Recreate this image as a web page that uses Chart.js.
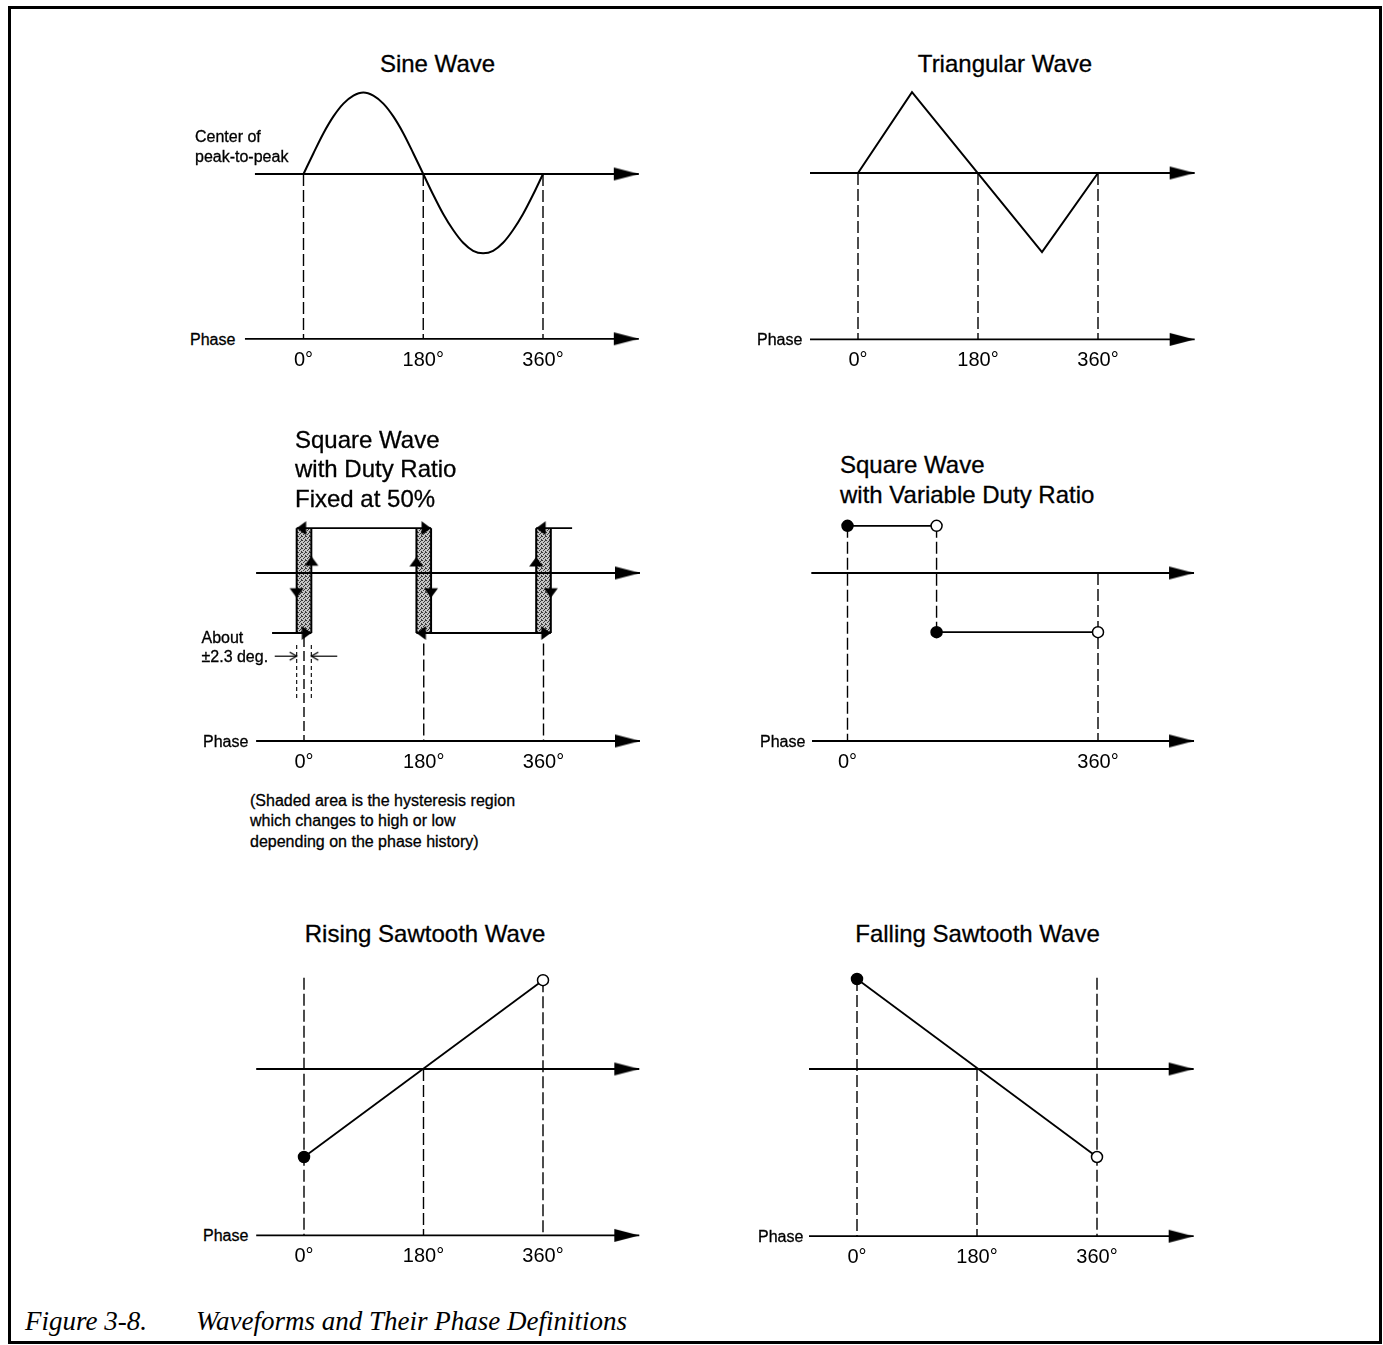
<!DOCTYPE html>
<html>
<head>
<meta charset="utf-8">
<script src="https://cdn.jsdelivr.net/npm/chart.js@4.4.1/dist/chart.umd.min.js"></script>
<style>
body { margin: 0; background: #fff; }
#page { position: relative; width: 1383px; height: 1345px; overflow: hidden; color: #000;
        font-family: 'Liberation Sans', Arial, Helvetica, sans-serif; }
#frame { position: absolute; left: 8px; top: 6px; width: 1374px; height: 1338px;
         border: 3px solid #000; box-sizing: border-box; }
canvas { position: absolute; }
.t { position: absolute; white-space: pre; -webkit-text-stroke: 0.3px #000; }
.cap { font-family: 'Liberation Serif', 'DejaVu Serif', serif; font-style: italic; -webkit-text-stroke: 0; }
</style>
</head>
<body>
<div id="page"><div id="frame"></div></div>
<script>
// ---- values (phase in degrees, level in amplitude units) ----
const tickValues = [0, 180, 360];
const tickLabels = ['0°', '180°', '360°'];
const varTickValues = [0, 360];
const varTickLabels = ['0°', '360°'];
const guidePhases = [0, 180, 360];

const sinePhase = [0, 15, 30, 45, 60, 75, 90, 105, 120, 135, 150, 165, 180,
                   195, 210, 225, 240, 255, 270, 285, 300, 315, 330, 345, 360];
const sineValue = [0, 0.26, 0.51, 0.72, 0.88, 0.98, 1.02, 0.98, 0.88, 0.72, 0.51, 0.26, 0,
                   -0.26, -0.5, -0.7, -0.86, -0.96, -0.99, -0.96, -0.86, -0.7, -0.5, -0.26, 0];
const sineAxis = [-73, 504];
const sinePhaseAxis = [-88, 504];
const sinePhaseLevel = -2.06;

const triPhase = [0, 81, 276, 360];
const triValue = [0, 1.01, -0.99, 0];
const triAxis = [-72, 505];
const triPhaseLevel = -2.08;

// square wave, duty ratio fixed at 50 %
const fixedHigh = 0.56;
const fixedLow = -0.75;
const fixedBands = [0, 180, 360];
const fixedBandHalf = 11;
const fixedTopRuns = [[-11, 191], [349, 403]];
const fixedLowRuns = [[-48, 11], [169, 371]];
const fixedArrowPhase = [-11, 11, -11, 11, 191, 169, 191, 169, 349, 349, 371, 371];
const fixedArrowLevel = [0.56, 0.21, -0.31, -0.75, 0.56, 0.2, -0.31, -0.75, 0.56, 0.2, -0.31, -0.75];
const fixedArrowTurn = [270, 0, 180, 90, 90, 0, 180, 270, 270, 0, 180, 90];
const fixedDimLevel = -1.04;
const fixedDimRuns = [[-44, -11], [50, 11]];
const fixedAxis = [-72, 505];
const fixedPhaseLevel = -2.1;

// square wave, variable duty ratio
const varSwitch = 128;
const varHigh = 0.59;
const varLow = -0.74;
const varAxis = [-52, 498];
const varPhaseAxis = [-51, 498];
const varPhaseLevel = -2.1;

// sawtooth waves
const sawPhase = [0, 360];
const riseValue = [-1.10, 1.11];
const riseGuideTop = [1.14, 0, 1.11];
const risePhaseLevel = -2.08;
const fallValue = [1.125, -1.10];
const fallGuideTop = [1.125, 0, 1.14];
const fallPhaseLevel = -2.09;
const sawAxis = [-72, 505];

// ---- drawing helpers ----
const UNIT = 80;   // px per amplitude unit
const page = document.getElementById('page');
Chart.defaults.font.family = "'Liberation Sans', Arial, Helvetica, sans-serif";
Chart.defaults.color = '#000';

function makeImg(w, h, draw) {
  const c = document.createElement('canvas');
  c.width = w; c.height = h;
  draw(c.getContext('2d'), w / 2, h / 2);
  return c;
}
// arrowheads with their tip at the image centre
const axisArrow = makeImg(52, 15, (g, cx, cy) => {
  g.fillStyle = '#000'; g.beginPath();
  g.moveTo(cx - 25, cy - 6.5); g.lineTo(cx, cy); g.lineTo(cx - 25, cy + 6.5); g.closePath(); g.fill();
});
const smallArrow = makeImg(18, 24, (g, cx, cy) => {
  g.fillStyle = '#000'; g.beginPath();
  g.moveTo(cx, cy); g.lineTo(cx + 7, cy + 9.5); g.lineTo(cx - 7, cy + 9.5); g.closePath(); g.fill();
});
const dimArrow = makeImg(14, 20, (g, cx, cy) => {
  g.strokeStyle = '#000'; g.lineWidth = 1.3; g.beginPath();
  g.moveTo(cx - 4, cy + 7); g.lineTo(cx, cy); g.lineTo(cx + 4, cy + 7); g.stroke();
});

const pts = (xs, ys) => xs.map((x, i) => ({x, y: ys[i]}));
const hseg = (x1, x2, y) => [{x: x1, y}, {x: x2, y}];
const vseg = (x, y1, y2) => [{x, y: y1}, {x, y: y2}];

function line(data, extra) {
  return Object.assign({data, borderColor: '#000', borderWidth: 1.8, pointRadius: 0,
    clip: false, order: 1, tension: 0}, extra);
}
function dashed(data, dash, width) {
  return line(data, {borderWidth: width || 1.4, borderDash: dash || [12, 4], order: 2});
}
function marks(data, style, turn) {
  return {data, showLine: false, pointStyle: style, pointRadius: 3, pointRotation: turn || 0,
    pointBorderWidth: 0, clip: false, order: 0};
}
function dots(data, filled) {
  return {data, showLine: false, pointStyle: 'circle', pointRadius: 5.5, pointBorderWidth: 1.5,
    pointBorderColor: '#000', pointBackgroundColor: filled ? '#000' : '#fff', clip: false, order: 0};
}
function axes(center, phase, level) {
  return [
    line(hseg(center[0], center[1], 0)),
    line(hseg(phase[0], phase[1], level)),
    marks([{x: center[1], y: 0}, {x: phase[1], y: level}], axisArrow)
  ];
}

function panel(box, ticks, labels, datasets) {
  const ppd = (box.full - box.zero) / 360;
  const bottom = box.phase + 4;
  const c = document.createElement('canvas');
  c.width = box.width;
  c.height = bottom - box.top + 34;   // 24px label line + padding on both sides
  c.style.left = box.left + 'px';
  c.style.top = box.top + 'px';
  page.appendChild(c);
  if (box.pattern) {
    const p = c.getContext('2d').createPattern(box.pattern, 'repeat');
    datasets.forEach(d => { if (d.fill === 'shape') d.backgroundColor = p; });
  }
  return new Chart(c, {
    type: 'line',
    data: {datasets},
    options: {
      responsive: false,
      animation: false,
      events: [],
      layout: {padding: 0, autoPadding: false},
      plugins: {legend: {display: false}, tooltip: {enabled: false}},
      scales: {
        x: {
          type: 'linear',
          min: (box.left - box.zero) / ppd,
          max: (box.left + box.width - box.zero) / ppd,
          grid: {display: false, drawTicks: false},
          border: {display: false},
          afterBuildTicks: s => { s.ticks = ticks.map(v => ({value: v})); },
          ticks: {padding: 5, autoSkip: false, maxRotation: 0, minRotation: 0,
                  font: {size: 20}, callback: (v, i) => labels[i]}
        },
        y: {
          type: 'linear', display: false,
          min: (box.center - bottom) / UNIT,
          max: (box.center - box.top) / UNIT
        }
      }
    }
  });
}

// stipple used for the hysteresis bands
const stipple = makeImg(4, 4, g => {
  g.fillStyle = '#c4c4c4'; g.fillRect(0, 0, 4, 4);
  g.fillStyle = '#3a3a3a';
  [[0, 0], [2, 1], [1, 2], [3, 3], [3, 0]].forEach(([a, b]) => g.fillRect(a, b, 1, 1));
});

// ---- Sine Wave ----
panel({left: 240, top: 80, width: 420, zero: 303.5, full: 543, center: 174, phase: 339},
  tickValues, tickLabels, [
    line(pts(sinePhase, sineValue), {borderWidth: 2, cubicInterpolationMode: 'monotone'}),
    ...axes(sineAxis, sinePhaseAxis, sinePhaseLevel),
    ...guidePhases.map(p => dashed(vseg(p, 0, sinePhaseLevel)))
  ]);

// ---- Triangular Wave ----
panel({left: 800, top: 80, width: 410, zero: 858, full: 1098, center: 173, phase: 339},
  tickValues, tickLabels, [
    line(pts(triPhase, triValue), {borderWidth: 2}),
    ...axes(triAxis, triAxis, triPhaseLevel),
    ...guidePhases.map(p => dashed(vseg(p, 0, triPhaseLevel)))
  ]);

// ---- Square Wave, duty ratio fixed at 50% ----
panel({left: 250, top: 512, width: 410, zero: 304, full: 543.5, center: 573, phase: 741, pattern: stipple},
  tickValues, tickLabels, [
    ...fixedBands.map(c => ({
      data: [{x: c - fixedBandHalf, y: fixedLow}, {x: c + fixedBandHalf, y: fixedLow},
             {x: c + fixedBandHalf, y: fixedHigh}, {x: c - fixedBandHalf, y: fixedHigh},
             {x: c - fixedBandHalf, y: fixedLow}],
      fill: 'shape', borderWidth: 0, borderColor: 'rgba(0,0,0,0)', pointRadius: 0,
      clip: false, order: 3
    })),
    ...fixedBands.flatMap(c => [
      line(vseg(c - fixedBandHalf, fixedLow, fixedHigh), {borderWidth: 2}),
      line(vseg(c + fixedBandHalf, fixedLow, fixedHigh), {borderWidth: 2})
    ]),
    ...fixedTopRuns.map(r => line(hseg(r[0], r[1], fixedHigh))),
    ...fixedLowRuns.map(r => line(hseg(r[0], r[1], fixedLow))),
    marks(pts(fixedArrowPhase, fixedArrowLevel), smallArrow, fixedArrowTurn),
    ...fixedDimRuns.map(r => line(hseg(r[0], r[1], fixedDimLevel), {borderWidth: 1.2})),
    marks(fixedDimRuns.map(r => ({x: r[1], y: fixedDimLevel})), dimArrow, [90, 270]),
    dashed(vseg(-fixedBandHalf, -0.9, -1.6), [4, 3], 1.1),
    dashed(vseg(fixedBandHalf, -0.9, -1.6), [4, 3], 1.1),
    dashed(vseg(0, -0.8, fixedPhaseLevel), [10, 4]),
    dashed(vseg(180, -0.88, fixedPhaseLevel)),
    dashed(vseg(360, -0.88, fixedPhaseLevel)),
    ...axes(fixedAxis, fixedAxis, fixedPhaseLevel)
  ]);

// ---- Square Wave, variable duty ratio ----
panel({left: 800, top: 510, width: 410, zero: 847.5, full: 1098, center: 573, phase: 741},
  varTickValues, varTickLabels, [
    dots([{x: 0, y: varHigh}, {x: varSwitch, y: varLow}], true),
    dots([{x: varSwitch, y: varHigh}, {x: 360, y: varLow}], false),
    line(hseg(0, varSwitch, varHigh)),
    line(hseg(varSwitch, 360, varLow)),
    dashed(vseg(0, varHigh, varPhaseLevel)),
    dashed(vseg(varSwitch, varHigh, varLow)),
    dashed(vseg(360, 0, varPhaseLevel)),
    ...axes(varAxis, varPhaseAxis, varPhaseLevel)
  ]);

// ---- Rising Sawtooth Wave ----
panel({left: 250, top: 965, width: 410, zero: 304, full: 543, center: 1069, phase: 1235},
  tickValues, tickLabels, [
    dots([{x: sawPhase[0], y: riseValue[0]}], true),
    dots([{x: sawPhase[1], y: riseValue[1]}], false),
    line(pts(sawPhase, riseValue)),
    ...guidePhases.map((p, i) => dashed(vseg(p, riseGuideTop[i], risePhaseLevel))),
    ...axes(sawAxis, sawAxis, risePhaseLevel)
  ]);

// ---- Falling Sawtooth Wave ----
panel({left: 800, top: 965, width: 410, zero: 857, full: 1097, center: 1069, phase: 1236},
  tickValues, tickLabels, [
    dots([{x: sawPhase[0], y: fallValue[0]}], true),
    dots([{x: sawPhase[1], y: fallValue[1]}], false),
    line(pts(sawPhase, fallValue)),
    ...guidePhases.map((p, i) => dashed(vseg(p, fallGuideTop[i], fallPhaseLevel))),
    ...axes(sawAxis, sawAxis, fallPhaseLevel)
  ]);

// ---- text ----
function text(str, x, cy, size, opt) {
  opt = opt || {};
  const lh = opt.lh || Math.round(size * 1.2);
  const d = document.createElement('div');
  d.className = 't' + (opt.cls ? ' ' + opt.cls : '');
  d.textContent = str;
  d.style.fontSize = size + 'px';
  d.style.lineHeight = lh + 'px';
  d.style.top = (cy - lh / 2) + 'px';
  d.style.left = x + 'px';
  if (opt.center) d.style.transform = 'translateX(-50%)';
  page.appendChild(d);
}
text('Sine Wave', 437.5, 63, 24, {center: true});
text('Triangular Wave', 1005, 63, 24, {center: true});
text('Center of\npeak-to-peak', 195, 137, 16, {lh: 20});
text('Square Wave\nwith Duty Ratio\nFixed at 50%', 295, 439.5, 24, {lh: 29.7});
text('Square Wave\nwith Variable Duty Ratio', 840, 464.5, 24, {lh: 30});
text('About\n±2.3 deg.', 201.5, 637, 16, {lh: 19});
text('(Shaded area is the hysteresis region\nwhich changes to high or low\ndepending on the phase history)',
     250, 801, 16, {lh: 20.5});
text('Rising Sawtooth Wave', 425, 933, 24, {center: true});
text('Falling Sawtooth Wave', 977.5, 933, 24, {center: true});
[[190, 339], [757, 339], [203, 741], [760, 741], [203, 1235], [758, 1236]]
  .forEach(([x, y]) => text('Phase', x, y, 16));
text('Figure 3-8.', 25, 1321, 27, {cls: 'cap'});
text('Waveforms and Their Phase Definitions', 196, 1321, 27, {cls: 'cap'});
</script>
</body>
</html>
